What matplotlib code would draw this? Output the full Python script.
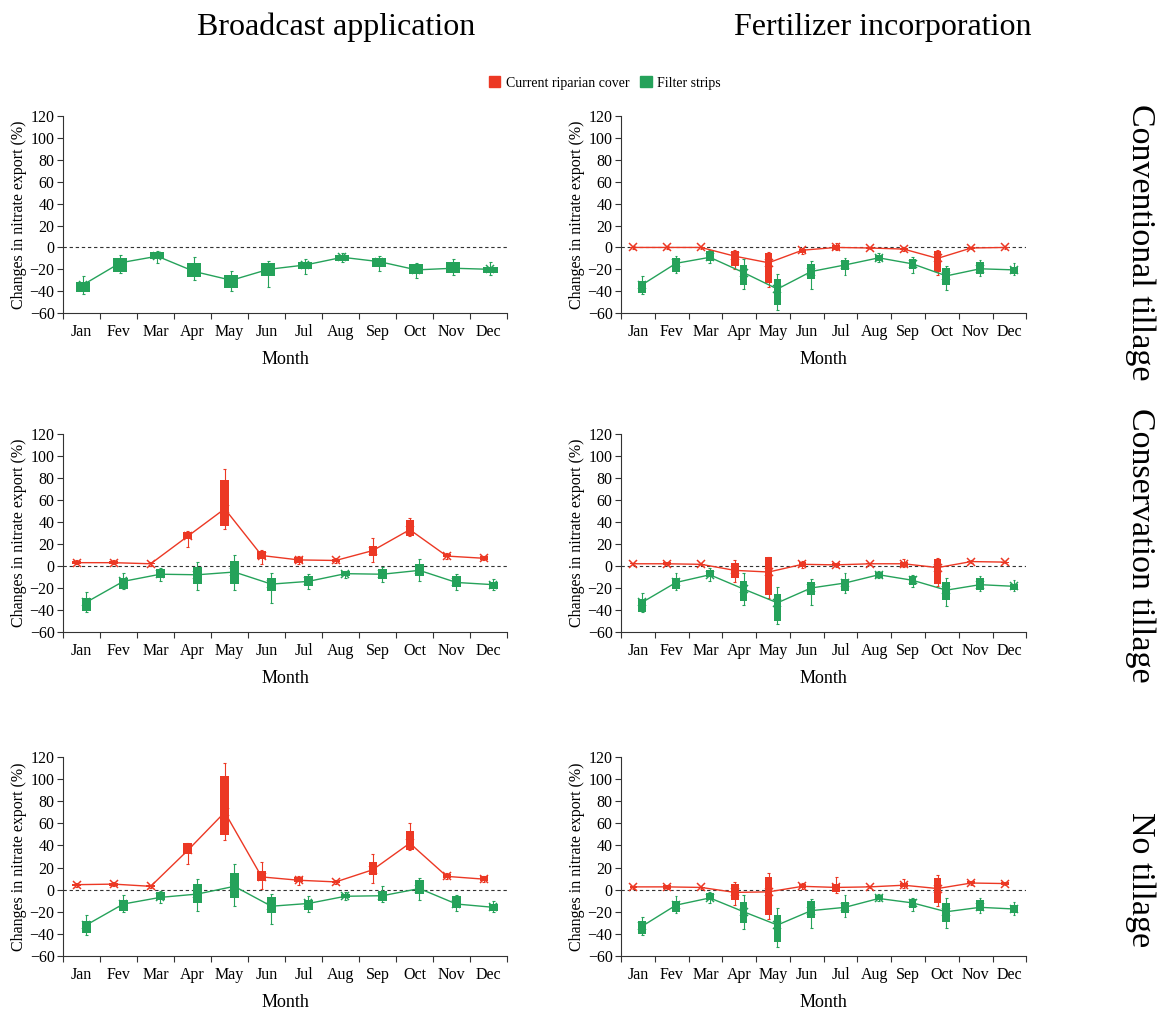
import numpy as np
import matplotlib
matplotlib.use('Agg')
import matplotlib.pyplot as plt
from matplotlib.patches import Patch

plt.rcParams['font.family'] = ['Liberation Serif', 'DejaVu Serif']

months = ['Jan', 'Fev', 'Mar', 'Apr', 'May', 'Jun', 'Jul', 'Aug', 'Sep', 'Oct', 'Nov', 'Dec']
col_titles = ['Broadcast application', 'Fertilizer incorporation']
row_titles = ['Conventional tillage', 'Conservation tillage', 'No tillage']
series_names = ['Current riparian cover', 'Filter strips']

# each month: (min, q1, mean, q3, max)
conv_bc_riparian = None
conv_bc_filter = [(-43, -41, -34, -32, -26), (-23, -22, -14, -10, -7), (-14, -11, -8, -4, -3),
                  (-30, -27, -22, -14, -8.5), (-39.5, -37, -30, -25.5, -21.5), (-36, -26.5, -20, -14, -12.5),
                  (-24.5, -20, -16, -13, -10.5), (-13.5, -12.5, -9, -6.5, -5.5), (-21.5, -18, -13, -9.5, -7.5),
                  (-27.5, -24.5, -20.5, -15, -14), (-25, -23, -19, -13.5, -11), (-25, -23.5, -20, -18, -13.5)]

conv_fi_riparian = [(-1, -0.5, 0, 0.5, 1), (-1, -0.5, 0, 0.5, 1), (-1, -0.5, 0, 0.5, 1),
                    (-19.5, -17, -8, -3.5, -2), (-36, -32.5, -14, -5, -4), (-6, -5, -2.5, -1, -0.5),
                    (-2.5, -2, 0, 2, 4), (-1.5, -1, -0.5, 0, 0.5), (-3, -2.5, -1.5, -0.5, 0),
                    (-25, -22, -10, -3.5, -2.5), (-1.5, -1, -0.5, 0, 0.5), (-1, -0.5, 0, 0.5, 1)]
conv_fi_filter = [(-43, -41.5, -34, -30.5, -26), (-23.5, -22.5, -14.5, -9.5, -7.5), (-14.5, -12, -9, -3.5, -2),
                  (-38, -34, -23, -16, -11), (-57, -53, -38, -28.5, -24), (-38, -29, -22, -15, -12),
                  (-25.5, -20.5, -16, -11.5, -9.5), (-13.5, -12.5, -9.5, -6.5, -5.5), (-23, -19.5, -15, -11, -9),
                  (-39, -34, -26, -18.5, -17), (-26, -24.5, -19.5, -13.5, -11.5), (-25.5, -24, -20.5, -18, -14)]

cons_bc_riparian = [(1.5, 2, 3, 4.5, 5), (1.5, 2, 3, 4.5, 5), (0, 1.5, 2, 2.5, 4),
                    (17.5, 24.5, 27, 30.5, 31.5), (33.5, 36.5, 52, 78.5, 88.5), (2, 6.5, 9.5, 13.5, 14.5),
                    (2, 3, 5.5, 8, 9), (3, 4, 5, 6, 7), (3.5, 9.5, 14, 18.5, 25),
                    (27, 27.5, 33, 42, 44), (6.5, 8, 9, 11, 11.5), (5, 5.5, 7, 9, 9.5)]
cons_bc_filter = [(-42, -41, -33, -29.5, -24), (-21, -20.5, -14, -11, -6), (-13.5, -10.5, -7.5, -3, -2),
                  (-22, -16, -8, -1, 4), (-21.5, -16.5, -5.5, 4.5, 10), (-34, -23, -16.5, -10.5, -6.5),
                  (-20.5, -18, -14, -9.5, -7), (-10.5, -9.5, -7, -5, -4.5), (-14.5, -12, -7.5, -2.5, -1),
                  (-13.5, -9, -4, 2, 6), (-21.5, -19, -15, -9, -7), (-21.5, -20.5, -17, -14.5, -12)]

cons_fi_riparian = [(1, 1.5, 2, 2.5, 3), (0.5, 1, 2, 3.5, 4), (0.5, 1, 1.5, 2, 2.5),
                    (-15, -10.5, -4, 3, 5), (-29, -26, -5.5, 8, 8.5), (-2, -1, 1.5, 4, 4.5),
                    (-0.5, 0, 1, 2.5, 3), (1, 1.5, 2, 2.5, 3), (-1, -0.5, 2, 4, 6),
                    (-18, -16, -1.5, 6.5, 7), (3, 3.5, 4, 4.5, 5), (2.5, 3, 3.5, 4, 4.5)]
cons_fi_filter = [(-42, -41.5, -33, -30, -25), (-22, -21, -15, -10.5, -6.5), (-13.5, -10, -8, -3.5, -2),
                  (-35.5, -31.5, -21, -13.5, -6.5), (-53, -50, -33.5, -25.5, -19.5), (-35.5, -26.5, -20, -15, -12),
                  (-24.5, -23, -15.5, -12, -6.5), (-11, -10.5, -8, -5.5, -5), (-19.5, -17.5, -13, -9, -8),
                  (-36, -30.5, -22, -15, -11), (-22.5, -22, -17, -10.5, -9), (-23, -22, -18.5, -16, -13)]

no_bc_riparian = [(2.5, 3.5, 4.5, 5.5, 6), (3, 3.5, 5, 6, 6.5), (1.5, 2, 3, 4, 4.5),
                  (23, 32, 35.5, 42, 42), (44.5, 49, 70, 103, 114.5), (1, 7.5, 11.5, 16.5, 25),
                  (4, 6.5, 8.5, 11, 12), (5, 6, 7, 8, 9), (6, 13, 18, 25, 32),
                  (36, 36, 42, 53, 60), (9.5, 10.5, 12, 14, 15), (7, 8, 9.5, 12, 12.5)]
no_bc_filter = [(-41, -39, -32, -28, -22.5), (-20, -19.5, -13, -9.5, -5), (-12, -9.5, -7, -2.5, -1),
                (-19.5, -12, -4, 5.5, 9.5), (-14.5, -8, 3, 15.5, 23), (-31.5, -21.5, -15, -6.5, -4),
                (-20, -18, -12.5, -9.5, -5.5), (-9, -8, -6, -3.5, -2.5), (-11, -10, -5.5, -1, 3.5),
                (-9, -3.5, 1, 8.5, 10.5), (-19.5, -17, -13, -6, -5), (-20, -19.5, -16, -13, -10.5)]

no_fi_riparian = [(1, 1.5, 2.5, 3, 3.5), (0.5, 1, 2.5, 4, 4.5), (1, 1.5, 2, 2.5, 3),
                  (-14, -9.5, -2.5, 5.5, 7), (-27, -22.5, -2, 11, 15.5), (1, 1.5, 3, 5.5, 6),
                  (-3, -2.5, 2, 5, 11.5), (1.5, 2, 2.5, 3, 3.5), (1.5, 2, 4, 6, 9.5),
                  (-15, -12.5, 1, 10.5, 13.5), (4.5, 5, 6, 7.5, 8), (4, 4.5, 5.5, 6.5, 7)]
no_fi_filter = [(-41, -40, -33, -28.5, -24.5), (-21, -20, -14, -10, -5.5), (-12.5, -9.5, -7.5, -3, -2),
                (-35.5, -30.5, -20, -11.5, -5), (-52, -47.5, -32, -22.5, -16.5), (-35, -25.5, -19, -10.5, -8.5),
                (-24.5, -21.5, -16, -11, -5), (-10, -9.5, -8, -4.5, -4), (-19, -16.5, -12, -8.5, -8),
                (-34.5, -29, -20, -12.5, -8), (-21.5, -19.5, -16, -9, -7.5), (-22.5, -21.5, -17.5, -14, -11.5)]

panels = [[(conv_bc_riparian, conv_bc_filter), (conv_fi_riparian, conv_fi_filter)],
          [(cons_bc_riparian, cons_bc_filter), (cons_fi_riparian, cons_fi_filter)],
          [(no_bc_riparian, no_bc_filter), (no_fi_riparian, no_fi_filter)]]

red = '#EC3824'
green = '#25A25A'

fig = plt.figure(figsize=(11.75, 10.1), dpi=100)

col_x = [(0.0536, 0.378), (0.5285, 0.345)]
row_y = [(0.690, 0.195), (0.3743, 0.196), (0.0535, 0.197)]


def draw_series(ax, stats, color, offset, width):
    st = np.array(stats, dtype=float)
    x = np.arange(len(st)) + offset
    lo, q1, mean, q3, hi = st.T
    ax.vlines(x, lo, hi, color=color, lw=0.8, zorder=2)
    ax.hlines(lo, x - 0.04, x + 0.04, color=color, lw=0.8, zorder=2)
    ax.hlines(hi, x - 0.04, x + 0.04, color=color, lw=0.8, zorder=2)
    ax.bar(x, q3 - q1, bottom=q1, width=width, color=color, zorder=3)
    # mean line with x markers, as in excel box plots
    ax.plot(x, mean, color=color, lw=1.0, marker='x', ms=6, mew=1.1, zorder=4)


for r in range(3):
    for c in range(2):
        ax = fig.add_axes([col_x[c][0], row_y[r][0], col_x[c][1], row_y[r][1]])
        rip, fil = panels[r][c]
        ax.axhline(0, color='#333333', lw=0.8, ls=(0, (3, 2.5)), zorder=1)
        if rip is None:
            draw_series(ax, fil, green, 0.05, 0.38)
        else:
            draw_series(ax, rip, red, -0.13, 0.23)
            draw_series(ax, fil, green, 0.13, 0.23)
        ax.set_xlim(-0.5, 11.5)
        ax.set_ylim(-60, 120)
        ax.set_yticks(np.arange(-60, 121, 20))
        ax.set_xticks(np.arange(-0.5, 12, 1))
        ax.set_xticklabels([])
        ax.set_xticks(np.arange(12), minor=True)
        ax.set_xticklabels(months, minor=True)
        ax.tick_params(axis='x', which='minor', length=0, pad=8, labelsize=11.5)
        ax.tick_params(axis='x', which='major', length=4, color='#333333')
        ax.tick_params(axis='y', length=4, labelsize=11.5, color='#333333', pad=2)
        for s in ['top', 'right']:
            ax.spines[s].set_visible(False)
        for s in ['left', 'bottom']:
            ax.spines[s].set_color('#333333')
        ax.set_xlabel('Month', fontsize=13, labelpad=8)
        ax.set_ylabel('Changes in nitrate export (%)', fontsize=11.5, labelpad=2)

fig.text(336 / 1175, 1 - 27 / 1010, col_titles[0], ha='center', va='center', fontsize=23)
fig.text(883 / 1175, 1 - 27 / 1010, col_titles[1], ha='center', va='center', fontsize=23)

row_cy = [242, 545, 880]
for r in range(3):
    fig.text(1140 / 1175, 1 - row_cy[r] / 1010, row_titles[r], ha='center', va='center',
             rotation=270, fontsize=24.5)

handles = [Patch(color=red), Patch(color=green)]
fig.legend(handles, series_names, loc='center', bbox_to_anchor=(605 / 1175, 1 - 83 / 1010),
           ncol=2, frameon=False, fontsize=10, handlelength=0.8, handleheight=0.8,
           handletextpad=0.4, columnspacing=0.8)

fig.savefig('out.png', dpi=100)
